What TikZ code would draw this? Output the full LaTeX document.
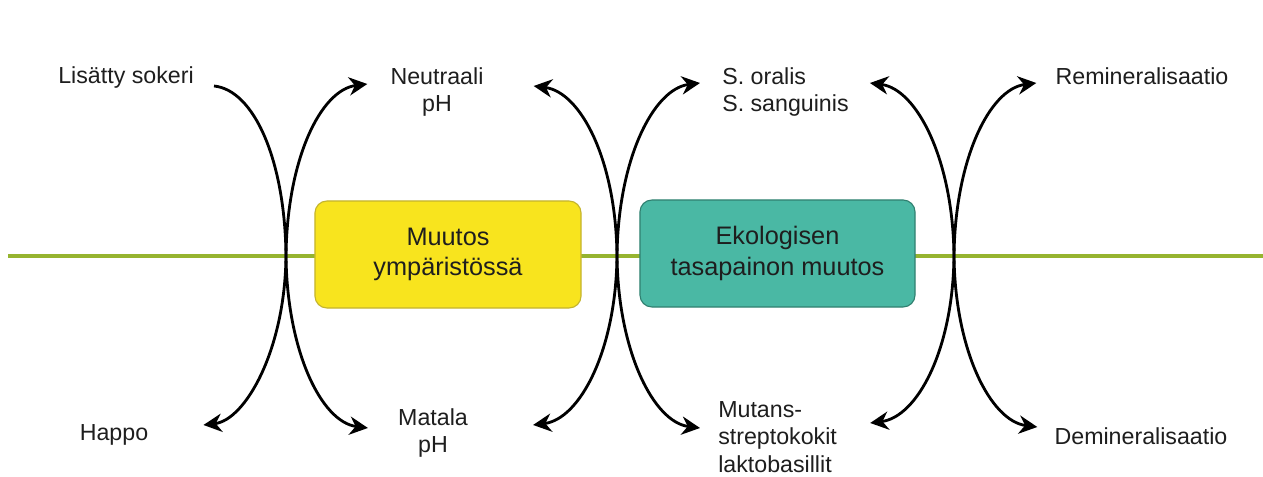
\documentclass[tikz,border=0pt]{standalone}
\usepackage{fontspec}
\setmainfont{Liberation Sans}
\usepackage{tikz}
\usetikzlibrary{arrows.meta, calc}
\definecolor{boxyellow}{RGB}{248,228,30}
\definecolor{boxyellowline}{RGB}{196,180,45}
\definecolor{boxteal}{RGB}{74,184,164}
\definecolor{boxtealline}{RGB}{48,128,112}
\definecolor{axisgreen}{RGB}{150,180,48}
\definecolor{textgray}{RGB}{30,30,30}
\tikzstyle{term} = [font=\fontsize{16.5}{19.5}\selectfont, text=textgray, inner sep=0pt, align=center]
\tikzstyle{stage} = [rectangle, rounded corners=0.3cm, minimum height=2.675cm, text centered, line width=0.8pt, font=\fontsize{18}{21.5}\selectfont, text=textgray]
\tikzstyle{arrow} = [line width=2pt, -{Stealth[length=13pt, width=13pt]}]
\tikzstyle{twoway} = [line width=2pt, {Stealth[length=13pt, width=13pt]}-{Stealth[length=13pt, width=13pt]}]

\begin{document}
\begin{tikzpicture}[x=0.025cm, y=-0.025cm]
        \useasboundingbox [fill=white] (0,0) rectangle (1263,477);
        % horizontal axis
        \coordinate (axisL) at (8,256);
        \coordinate (axisR) at (1263,256);
        \draw [axisgreen, line width=2.2pt] (axisL) -- (axisR);
        % centre boxes
        \node (env) [stage, minimum width=6.65cm, fill=boxyellow, draw=boxyellowline, align=center] at (448,254.5) {Muutos\\ympäristössä};
        \node (eco) [stage, minimum width=6.875cm, fill=boxteal, draw=boxtealline, align=center] at (777.5,253.5) {Ekologisen\\tasapainon muutos};
        % labels
        \node (sokeri) [term] at (126,78) {Lisätty sokeri};
        \node (happo) [term] at (114,435) {Happo};
        \node (neutraali) [term] at (437,92) {Neutraali\\pH};
        \node (matala) [term] at (433,433) {Matala\\pH};
        \node (oralis) [term, anchor=west, align=left] at (722,92) {S. oralis\\S. sanguinis};
        \node (mutans) [term, anchor=west, align=left] at (718,437) {Mutans-\\streptokokit\\laktobasillit};
        \node (remin) [term] at (1142,76) {Remineralisaatio};
        \node (demin) [term] at (1141,436) {Demineralisaatio};
        % crossing points
        \coordinate (x1) at (286,256);
        \coordinate (x2) at (617,256);
        \coordinate (x3) at (954,256);
        % curved arrows
        \draw [arrow] ($(sokeri.east)+(20,8)$) .. controls +(40,4) and +(-1,-96) .. (x1) .. controls +(-1,94) and +(42,-5) .. ($(happo.east)+(55,-10)$);
        \draw [twoway] ($(neutraali.west)+(-23,-8)$) .. controls +(-47,6) and +(1,-96) .. (x1) .. controls +(1,94) and +(-47,-6) .. ($(matala.west)+(-30,-5)$);
        \draw [twoway] ($(neutraali.east)+(50,-6)$) .. controls +(47,6) and +(-1,-96) .. (x2) .. controls +(-1,94) and +(47,-6) .. ($(matala.east)+(65,-8)$);
        \draw [twoway] ($(oralis.west)+(-22,-9)$) .. controls +(-47,6) and +(1,-96) .. (x2) .. controls +(1,94) and +(-47,-6) .. ($(mutans.west)+(-18,-9)$);
        \draw [twoway] ($(oralis.east)+(21,-9)$) .. controls +(47,6) and +(-1,-96) .. (x3) .. controls +(-1,94) and +(47,-6) .. ($(mutans.east)+(33,-14)$);
        \draw [twoway] ($(remin.west)+(-19,7)$) .. controls +(-47,6) and +(1,-96) .. (x3) .. controls +(1,94) and +(-47,-6) .. ($(demin.west)+(-17,-9)$);
    \end{tikzpicture}
\end{document}
